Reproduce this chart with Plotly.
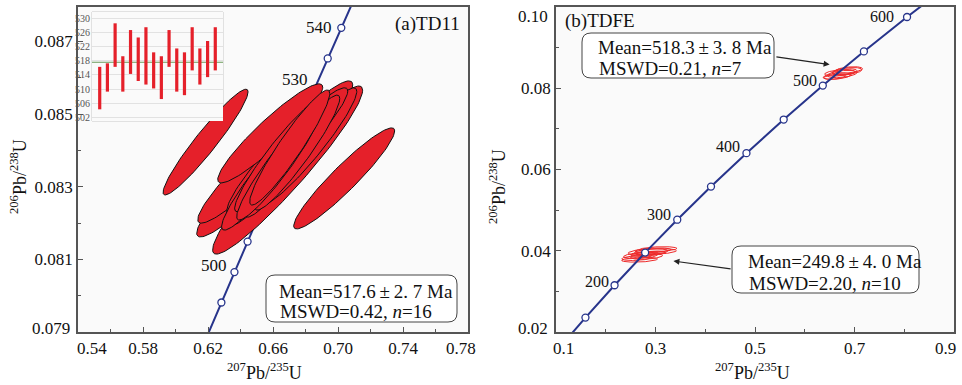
import numpy as np
import plotly.graph_objects as go

W, H = 962, 385
FONT = "Liberation Serif"
RED = "#e5202a"
NAVY = "#27348b"

# ---------------- data ----------------
# Concordia reference points, panel (a): age (Ma), 207Pb/235U, 206Pb/238U
conc_a_age = [485, 490, 495, 500, 505, 510, 515, 520, 525, 530, 535, 540, 545, 550]
conc_a_x = [0.61229, 0.62024, 0.62824, 0.63628, 0.64436, 0.65247, 0.66063,
            0.66883, 0.67707, 0.68535, 0.69367, 0.70203, 0.71043, 0.71887]
conc_a_y = [0.078139, 0.078975, 0.079812, 0.080650, 0.081489, 0.082328, 0.083168,
            0.084008, 0.084849, 0.085691, 0.086533, 0.087376, 0.088220, 0.089064]
conc_a_marked = [495, 500, 505, 510, 515, 520, 525, 530, 535, 540]
conc_a_labels = [500, 530, 540]

# Concordia reference points, panel (b)
conc_b_age = [100, 150, 200, 250, 300, 350, 400, 450, 500, 550, 600, 650]
conc_b_x = [0.10350, 0.15920, 0.21771, 0.27917, 0.34374, 0.41156,
            0.48281, 0.55766, 0.63628, 0.71887, 0.80563, 0.89677]
conc_b_y = [0.015633, 0.02354, 0.03151, 0.03954, 0.04764, 0.05580,
            0.06402, 0.07230, 0.08065, 0.08906, 0.09754, 0.10609]
conc_b_marked = [150, 200, 250, 300, 350, 400, 450, 500, 550, 600]
conc_b_labels = [200, 300, 400, 500, 600]

# Panel (a) TD11 analyses: 207/235, half-width, 206/238, half-width, rho
ta_x = [0.6185, 0.7038, 0.6690, 0.6515, 0.6506, 0.6703, 0.6583, 0.6635, 0.6817,
        0.6706, 0.6570, 0.6737, 0.6641, 0.6749, 0.6632, 0.6703]
ta_sx = [0.02615, 0.03108, 0.04615, 0.03846, 0.03692, 0.03877, 0.0323, 0.03015, 0.02985,
         0.0280, 0.02862, 0.0323, 0.02769, 0.02615, 0.02554, 0.02462]
ta_y = [0.08423, 0.08323, 0.08346, 0.08334, 0.08361, 0.08407, 0.08447, 0.08367, 0.08411,
        0.08383, 0.08339, 0.08421, 0.08388, 0.08394, 0.08360, 0.08408]
ta_sy = [0.001456, 0.001391, 0.002314, 0.001722, 0.001612, 0.001846, 0.001364, 0.001722,
         0.001612, 0.001667, 0.001584, 0.001515, 0.00157, 0.001584, 0.001515, 0.001584]
ta_rho = [0.95, 0.94, 0.95, 0.94, 0.94, 0.94, 0.93, 0.94, 0.94,
          0.94, 0.94, 0.94, 0.94, 0.94, 0.94, 0.94]

# Inset: 206Pb/238U ages (Ma), low / high of each bar, and weighted mean
inset_lo = [504.3, 509.3, 516.3, 509.3, 514.3, 512.3, 511.3, 510.2,
            507.2, 516.3, 509.3, 508.3, 515.3, 511.3, 513.4, 515.3]
inset_hi = [516.3, 517.3, 528.6, 519.3, 526.7, 524.6, 527.5, 520.4,
            519.3, 526.7, 521.5, 520.4, 527.5, 521.5, 523.6, 527.5]
inset_mean = 517.6
inset_ticks = [502, 506, 510, 514, 518, 522, 526, 530]

# Panel (b) TDFE analyses, group ~518 Ma
tb1_x = [0.665, 0.675, 0.680, 0.670, 0.688, 0.660, 0.685]
tb1_sx = [0.028, 0.030, 0.025, 0.030, 0.028, 0.022, 0.030]
tb1_y = [0.0830, 0.0835, 0.0840, 0.0838, 0.0845, 0.0828, 0.0842]
tb1_sy = [0.0008, 0.0009, 0.0008, 0.0008, 0.0008, 0.0006, 0.0009]
tb1_rho = [0.4, 0.4, 0.4, 0.4, 0.4, 0.4, 0.4]
# group ~250 Ma
tb2_x = [0.262, 0.270, 0.285, 0.295, 0.278, 0.300, 0.268, 0.290, 0.282, 0.305]
tb2_sx = [0.030, 0.034, 0.040, 0.036, 0.028, 0.042, 0.036, 0.030, 0.032, 0.038]
tb2_y = [0.0382, 0.0388, 0.0397, 0.0401, 0.0392, 0.0398, 0.0378, 0.0394, 0.0386, 0.0404]
tb2_sy = [0.0006, 0.0007, 0.0008, 0.0006, 0.0006, 0.0007, 0.0006, 0.0005, 0.0007, 0.0006]
tb2_rho = [0.3, 0.3, 0.35, 0.3, 0.3, 0.3, 0.3, 0.3, 0.3, 0.3]

x_ticks_a = [0.54, 0.58, 0.62, 0.66, 0.70, 0.74, 0.78]
y_ticks_a = [0.079, 0.081, 0.083, 0.085, 0.087]
x_ticks_b = [0.1, 0.3, 0.5, 0.7, 0.9]
y_ticks_b = [0.02, 0.04, 0.06, 0.08, 0.10]


def ellipse(cx, cy, sx, sy, r, n=120):
    t = np.linspace(0, 2 * np.pi, n)
    return cx + sx * np.cos(t), cy + sy * (r * np.cos(t) + np.sqrt(1 - r * r) * np.sin(t))


def px(x):
    return x / W


def py(y):
    return 1 - y / H


fig = go.Figure()

# ---- panel (a): concordia then ellipses ----
fig.add_trace(go.Scatter(x=conc_a_x, y=conc_a_y, mode="lines", xaxis="x", yaxis="y",
                         line=dict(color=NAVY, width=2), showlegend=False, hoverinfo="skip"))
ma = [conc_a_age.index(a) for a in conc_a_marked]
fig.add_trace(go.Scatter(x=[conc_a_x[i] for i in ma], y=[conc_a_y[i] for i in ma],
                         mode="markers", xaxis="x", yaxis="y", showlegend=False,
                         marker=dict(symbol="circle", size=7, color="white",
                                     line=dict(color=NAVY, width=1.3))))
for i in range(len(ta_x)):
    ex, ey = ellipse(ta_x[i], ta_y[i], ta_sx[i], ta_sy[i], ta_rho[i])
    fig.add_trace(go.Scatter(x=ex, y=ey, mode="lines", fill="toself", fillcolor=RED,
                             line=dict(color="#111", width=1), xaxis="x", yaxis="y",
                             showlegend=False, hoverinfo="skip"))

# ---- inset ----
fig.add_trace(go.Scatter(x=[0, 17], y=[inset_mean, inset_mean], mode="lines",
                         line=dict(color="#6a9a5a", width=1.2), xaxis="x3", yaxis="y3",
                         showlegend=False, hoverinfo="skip"))
bx, by = [], []
for k, (lo, hi) in enumerate(zip(inset_lo, inset_hi), start=1):
    bx += [k, k, None]
    by += [lo, hi, None]
fig.add_trace(go.Scatter(x=bx, y=by, mode="lines", line=dict(color=RED, width=3.2),
                         xaxis="x3", yaxis="y3", showlegend=False, hoverinfo="skip"))

# ---- panel (b): ellipses then concordia ----
for xs, sxs, ys, sys_, rs in [(tb1_x, tb1_sx, tb1_y, tb1_sy, tb1_rho),
                              (tb2_x, tb2_sx, tb2_y, tb2_sy, tb2_rho)]:
    for i in range(len(xs)):
        ex, ey = ellipse(xs[i], ys[i], sxs[i], sys_[i], rs[i])
        fig.add_trace(go.Scatter(x=ex, y=ey, mode="lines", line=dict(color="#ee2a2a", width=1),
                                 xaxis="x2", yaxis="y2", showlegend=False, hoverinfo="skip"))
fig.add_trace(go.Scatter(x=conc_b_x, y=conc_b_y, mode="lines", xaxis="x2", yaxis="y2",
                         line=dict(color=NAVY, width=2), showlegend=False, hoverinfo="skip"))
mb = [conc_b_age.index(a) for a in conc_b_marked]
fig.add_trace(go.Scatter(x=[conc_b_x[i] for i in mb], y=[conc_b_y[i] for i in mb],
                         mode="markers", xaxis="x2", yaxis="y2", showlegend=False,
                         marker=dict(symbol="circle", size=7, color="white",
                                     line=dict(color=NAVY, width=1.3))))

TICKFONT = dict(family=FONT, size=17, color="#111")
axis_common = dict(showline=True, linecolor="#555", linewidth=1.5, mirror=True,
                   ticks="inside", ticklen=5, tickcolor="#555", showgrid=False,
                   zeroline=False, tickfont=TICKFONT, automargin=False,
                   ticklabeloverflow="allow")

# edge tick labels sit inset from their ticks in the reference: they are drawn
# as shifted annotations (the ticks themselves lie on the frame corners)
edge_a_x = {0.54: 14, 0.78: -7}
edge_a_y = {0.079: 4}
edge_b_x = {0.1: 7, 0.9: -9}
edge_b_y = {0.10: -9, 0.02: 4}


def inner(vals, skip):
    return [v for v in vals if v not in skip]


xa_v, ya_v = inner(x_ticks_a, edge_a_x), inner(y_ticks_a, edge_a_y)
xb_v, yb_v = inner(x_ticks_b, edge_b_x), inner(y_ticks_b, edge_b_y)

fig.update_layout(
    template="none",
    width=W, height=H, autosize=False,
    margin=dict(l=0, r=0, t=0, b=0),
    paper_bgcolor="white", plot_bgcolor="#fafafa",
    font=dict(family=FONT, color="#111"),
    showlegend=False,
    xaxis=dict(domain=[px(78), px(468)], range=[0.54, 0.78], tickvals=xa_v,
               ticktext=[f"{v:.2f}" for v in xa_v], anchor="y",
               minor=dict(ticks="inside", ticklen=3, tick0=0.54, dtick=0.02, tickcolor="#555"),
               **axis_common),
    yaxis=dict(domain=[py(332), py(7)], range=[0.079, 0.08795], tickvals=ya_v,
               ticktext=[f"{v:.3f}" for v in ya_v], anchor="x",
               minor=dict(ticks="inside", ticklen=3, tick0=0.079, dtick=0.001, tickcolor="#555"),
               **axis_common),
    xaxis2=dict(domain=[px(556), px(954)], range=[0.1, 0.9], tickvals=xb_v,
                ticktext=[f"{v:.1f}" for v in xb_v], anchor="y2",
                minor=dict(ticks="inside", ticklen=3, tick0=0.1, dtick=0.1, tickcolor="#555"),
                **axis_common),
    yaxis2=dict(domain=[py(332), py(7)], range=[0.02, 0.10], tickvals=yb_v,
                ticktext=[f"{v:.2f}" for v in yb_v], anchor="x2",
                minor=dict(ticks="inside", ticklen=3, tick0=0.02, dtick=0.01, tickcolor="#555"),
                **axis_common),
    xaxis3=dict(domain=[px(92), px(223)], range=[0, 17], anchor="y3", showline=False,
                showticklabels=False, ticks="", showgrid=False, zeroline=False),
    yaxis3=dict(domain=[py(121), py(12)], range=[501, 531.8], anchor="x3",
                tickvals=inset_ticks, ticktext=[str(v) for v in inset_ticks],
                showgrid=True, gridcolor="#e2e2e2", gridwidth=1, ticks="", zeroline=False,
                showline=False, tickfont=dict(family=FONT, size=10, color="#555"),
                ticklabelstandoff=1, ticklabeloverflow="allow"),
)

shapes = []
# inset frame
shapes.append(dict(type="rect", xref="paper", yref="paper", x0=px(92), x1=px(223),
                   y0=py(121), y1=py(12), line=dict(color="#c8c8c8", width=1),
                   fillcolor="#fdfdfd", layer="below"))


def rbox(x0, y0, x1, y1, r=9):
    rx, ry = r / W, r / H
    X0, X1, Y0, Y1 = px(x0), px(x1), py(y0), py(y1)
    path = (f"M {X0+rx},{Y0} L {X1-rx},{Y0} Q {X1},{Y0} {X1},{Y0-ry} "
            f"L {X1},{Y1+ry} Q {X1},{Y1} {X1-rx},{Y1} L {X0+rx},{Y1} "
            f"Q {X0},{Y1} {X0},{Y1+ry} L {X0},{Y0-ry} Q {X0},{Y0} {X0+rx},{Y0} Z")
    return dict(type="path", xref="paper", yref="paper", path=path,
                line=dict(color="#444", width=1), fillcolor="white")


shapes.append(rbox(266, 275, 457, 322))
shapes.append(rbox(582, 33, 774, 78))
shapes.append(rbox(732, 246, 919, 293))
fig.update_layout(shapes=shapes)

ann = []


def txt(x, y, s, size=19, xa="left", ya="middle", angle=0):
    ann.append(dict(x=px(x), y=py(y), xref="paper", yref="paper", text=s, showarrow=False,
                    xanchor=xa, yanchor=ya, textangle=angle,
                    font=dict(family=FONT, size=size, color="#111")))


TS = "\u2009"
# stat boxes
txt(277, 291, f"Mean=517.6{TS}±{TS}2. 7 Ma")
txt(278, 311, "MSWD=0.42, <i>n</i>=16")
txt(596, 47, f"Mean=518.3{TS}±{TS}3. 8 Ma")
txt(597, 68, "MSWD=0.21, <i>n</i>=7")
txt(746, 261, f"Mean=249.8{TS}±{TS}4. 0 Ma")
txt(747, 283, "MSWD=2.20, <i>n</i>=10")
# panel labels
txt(462, 24, "(a)TD11", xa="right")
txt(563, 21, "(b)TDFE")
# axis titles
txt(264, 371, "<sup>207</sup>Pb/<sup>235</sup>U", size=18, xa="center")
txt(752, 371, "<sup>207</sup>Pb/<sup>235</sup>U", size=18, xa="center")
txt(18, 177, "<sup>206</sup>Pb/<sup>238</sup>U", size=18, xa="center", angle=-90)
txt(497, 187, "<sup>206</sup>Pb/<sup>238</sup>U", size=18, xa="center", angle=-90)

# edge tick labels
for v, sh in edge_a_x.items():
    ann.append(dict(x=v, y=py(348), xref="x", yref="paper", text=f"{v:.2f}", showarrow=False,
                    xanchor="center", yanchor="middle", xshift=sh, font=TICKFONT))
for v, sh in edge_a_y.items():
    ann.append(dict(x=px(72), y=v, xref="paper", yref="y", text=f"{v:.3f}", showarrow=False,
                    xanchor="right", yanchor="middle", yshift=sh, font=TICKFONT))
for v, sh in edge_b_x.items():
    ann.append(dict(x=v, y=py(348), xref="x2", yref="paper", text=f"{v:.1f}", showarrow=False,
                    xanchor="center", yanchor="middle", xshift=sh, font=TICKFONT))
for v, sh in edge_b_y.items():
    ann.append(dict(x=px(550), y=v, xref="paper", yref="y2", text=f"{v:.2f}", showarrow=False,
                    xanchor="right", yanchor="middle", yshift=sh, font=TICKFONT))

# concordia age labels
off_a = {500: (-5, 7), 530: (-4, 10), 540: (-7, 0)}
for a in conc_a_labels:
    i = conc_a_age.index(a)
    ann.append(dict(x=conc_a_x[i], y=conc_a_y[i], xref="x", yref="y", text=str(a),
                    showarrow=False, xanchor="right", yanchor="middle",
                    xshift=off_a[a][0], yshift=off_a[a][1],
                    font=dict(family=FONT, size=17, color="#111")))
off_b = {200: (-4, 4), 300: (-4, 5), 400: (-4, 7), 500: (-4, 5), 600: (-11, 0)}
for a in conc_b_labels:
    i = conc_b_age.index(a)
    ann.append(dict(x=conc_b_x[i], y=conc_b_y[i], xref="x2", yref="y2", text=str(a),
                    showarrow=False, xanchor="right", yanchor="middle",
                    xshift=off_b[a][0], yshift=off_b[a][1],
                    font=dict(family=FONT, size=16, color="#111")))

# arrows
ann.append(dict(x=0.65, y=0.08582, xref="x2", yref="y2", ax=0.54, ay=0.08778,
                axref="x2", ayref="y2", text="", showarrow=True, arrowhead=2,
                arrowsize=1, arrowwidth=1.2, arrowcolor="#222", standoff=0))
ann.append(dict(x=0.336, y=0.03747, xref="x2", yref="y2", ax=0.454, ay=0.03551,
                axref="x2", ayref="y2", text="", showarrow=True, arrowhead=2,
                arrowsize=1, arrowwidth=1.2, arrowcolor="#222", standoff=0))
fig.update_layout(annotations=ann)

fig.write_html("out.html", config={"displayModeBar": False},
               post_script="document.body.style.margin='0px';document.body.style.padding='0px';")
